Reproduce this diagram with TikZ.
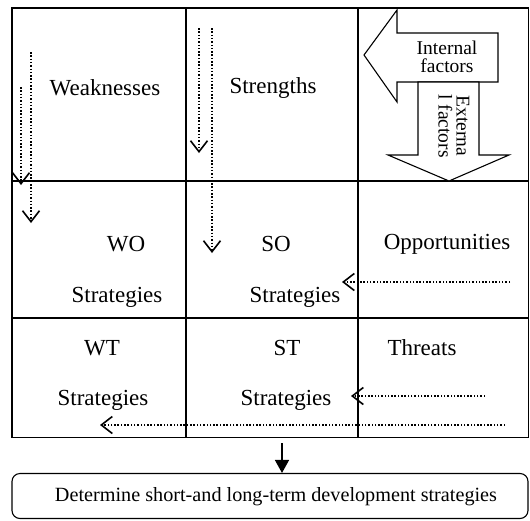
\documentclass[tikz,border=0pt]{standalone}
\usepackage{fontspec}
\setmainfont{Liberation Serif}
\usetikzlibrary{arrows.meta}
\begin{document}
\begin{tikzpicture}[x=1pt,y=-1pt,
  gridline/.style={line width=1.3pt},
  label/.style={font=\fontsize{23}{26}\selectfont, inner sep=0pt, anchor=center},
  small/.style={font=\fontsize{19.5}{18}\selectfont, inner sep=0pt, align=center},
  blockarrow/.style={draw, fill=white, line width=1.1pt, line join=miter},
  flow/.style={line width=1.6pt, dash pattern=on 1.5pt off 1.8pt,
    -{Straight Barb[length=11pt,width=17pt,line width=1.6pt]}},
  result/.style={draw, line width=1.1pt, rounded corners=8pt, minimum width=516pt,
    minimum height=45pt, inner sep=0pt, font=\fontsize{20.2}{23}\selectfont}]
\useasboundingbox (0,0) rectangle (530,520);

% SWOT grid
\draw[gridline] (12,8) rectangle (528.5,437.5);
\draw[gridline] (12,181) -- (528.5,181);
\draw[gridline] (12,318) -- (528.5,318);
\draw[gridline] (186,8) -- (186,437.5);
\draw[gridline] (358,8) -- (358,437.5);

% cell texts
\node[label] (weak) at (105,88) {Weaknesses};
\node[label] (str) at (273,88) {Strengths};
\node[label] (wo) at (126,244) {WO};
\node[label] (wos) at (117,297) {Strategies};
\node[label] (so) at (276,244) {SO};
\node[label] (sos) at (295,297) {Strategies};
\node[label] (opp) at (447,244) {Opportunities};
\node[label] (wt) at (102,348) {WT};
\node[label] (wts) at (103,400) {Strategies};
\node[label] (st) at (287,348) {ST};
\node[label] (sts) at (286,400) {Strategies};
\node[label] (thr) at (422,348) {Threats};

% block arrows for internal / external factors
\draw[blockarrow] (364,55) -- (397,10) -- (397,33) -- (498,33) -- (498,82)
  -- (397,82) -- (397,102) -- cycle;
\draw[blockarrow] (418,82) -- (479,82) -- (479,155) -- (509,155) -- (449,181)
  -- (388,155) -- (418,155) -- cycle;
\node[small] (internal) at (447,57) {Internal\\factors};
\node[small, rotate=-90] (external) at (454,126) {Externa\\l factors};

% dotted flow arrows
\coordinate (a1) at (21,87);   \coordinate (a2) at (21,185);
\coordinate (b1) at (31,52);   \coordinate (b2) at (31,223);
\coordinate (c1) at (199,28);  \coordinate (c2) at (199,153);
\coordinate (d1) at (212,28);  \coordinate (d2) at (212,253);
\coordinate (e1) at (510,282); \coordinate (e2) at (342,282);
\coordinate (f1) at (485,396); \coordinate (f2) at (351,396);
\coordinate (g1) at (505,425); \coordinate (g2) at (100,425);
\draw[flow] (a1) -- (a2);
\draw[flow] (b1) -- (b2);
\draw[flow] (c1) -- (c2);
\draw[flow] (d1) -- (d2);
\draw[flow] (e1) -- (e2);
\draw[flow] (f1) -- (f2);
\draw[flow] (g1) -- (g2);

% outcome
\node[result] (out) at (270,496) {};
\node[inner sep=0pt, font=\fontsize{20.2}{23}\selectfont] (outtext) at (276,497)
  {Determine short-and long-term development strategies};
\coordinate (gridbottom) at (282,443);
\draw[line width=1.5pt, -{Triangle[length=13pt,width=14pt]}] (gridbottom) -- (out.north -| gridbottom);
\end{tikzpicture}
\end{document}
